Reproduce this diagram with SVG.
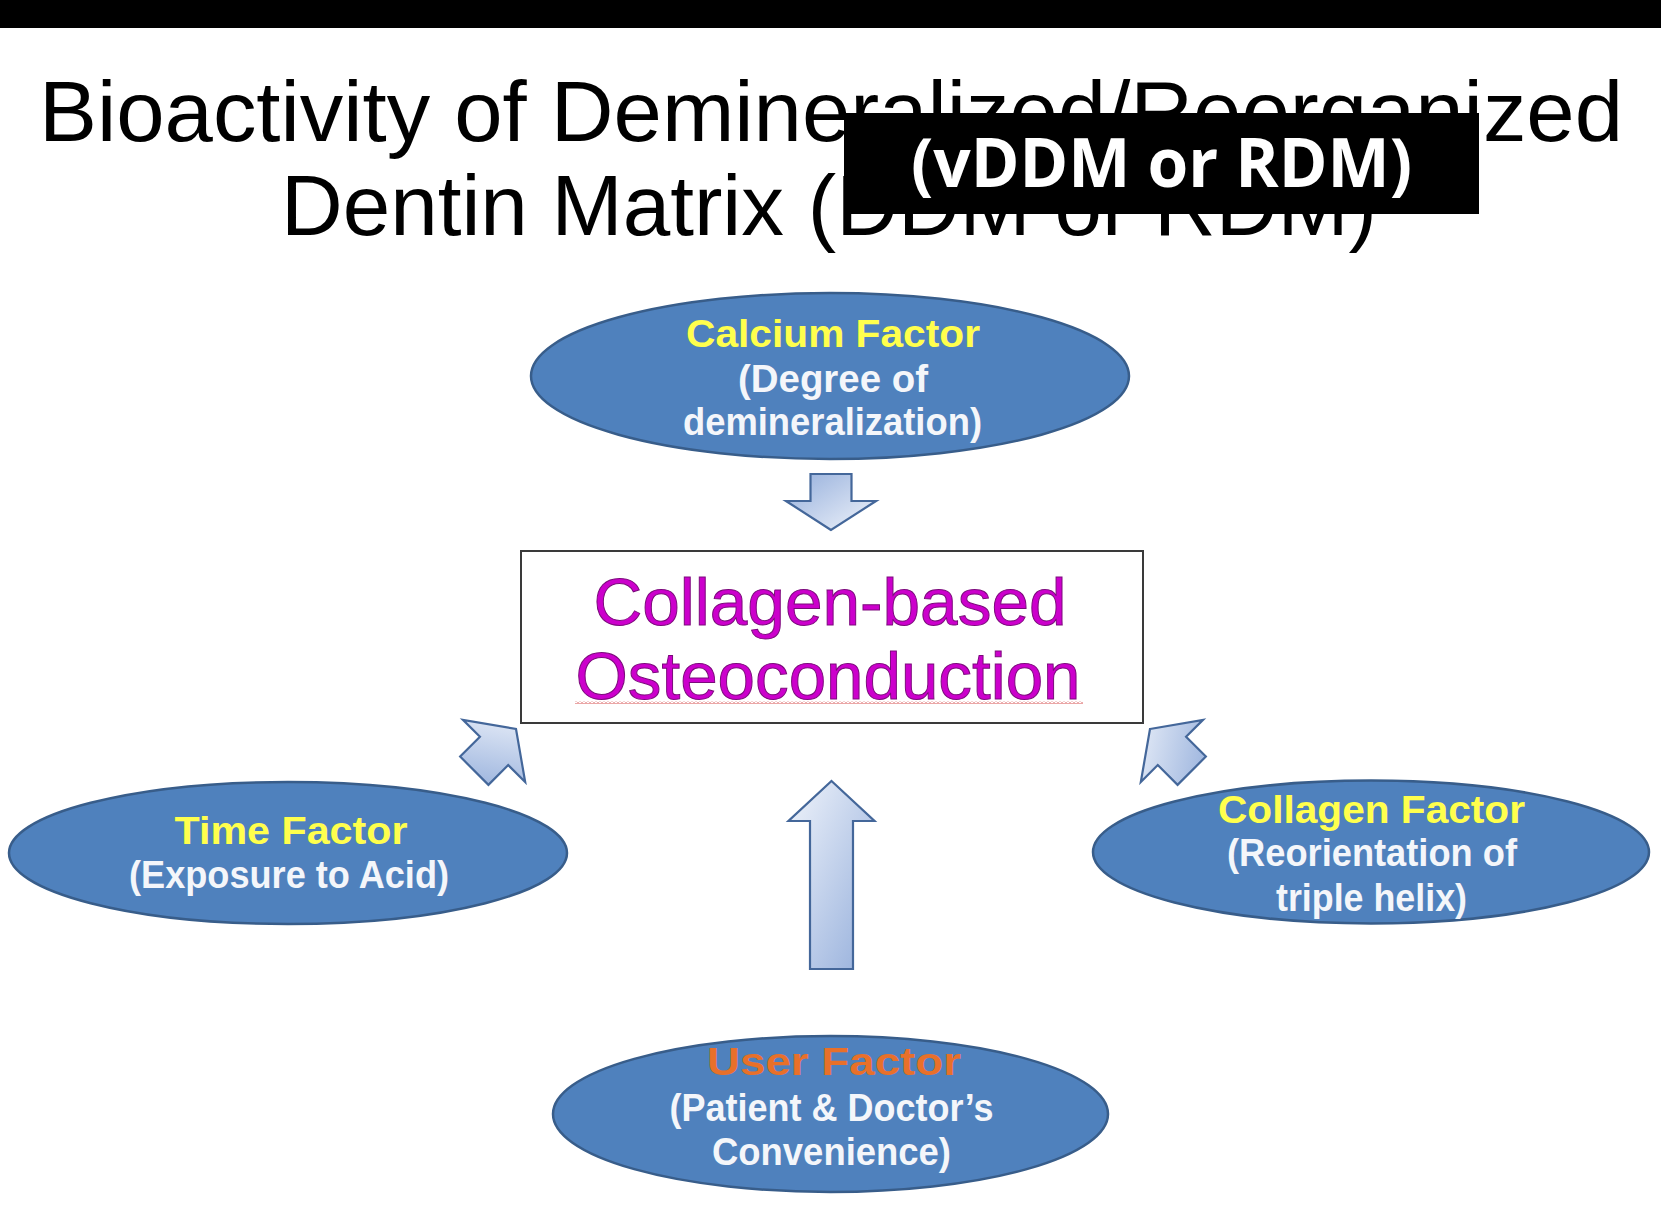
<svg xmlns="http://www.w3.org/2000/svg" width="1661" height="1228" viewBox="0 0 1661 1228">
  <style>
    .title { font-family: "Liberation Sans", Arial, sans-serif; font-size: 86px; fill: #000; }
    .oval { fill: #4f81bd; stroke: #385d8a; stroke-width: 2.5; }
    .lbl { font-family: "Liberation Sans", Arial, sans-serif; font-size: 39px; font-weight: bold; text-anchor: middle; }
    .yel { fill: #ffff4d; }
    .wht { fill: #f4f6fa; }
    .org { fill: #e8702a; }
    .arrow { fill: url(#arrGrad); stroke: #44679a; stroke-width: 2.2; stroke-linejoin: miter; }
    .center { font-family: "Liberation Sans", Arial, sans-serif; font-size: 67px; fill: #cc00cc; stroke: #7a0a7a; stroke-width: 1; text-anchor: middle; }
  </style>
  <defs>
    <linearGradient id="arrGrad" x1="0" y1="0" x2="1" y2="1">
      <stop offset="0" stop-color="#f0f4fb"/>
      <stop offset="1" stop-color="#94aedb"/>
    </linearGradient>
    <pattern id="squiggle" x="0" y="0" width="4" height="3" patternUnits="userSpaceOnUse">
      <path d="M0,2.5 L2,0.5 L4,2.5" fill="none" stroke="#d03a3a" stroke-width="0.9"/>
    </pattern>
  </defs>

  <rect x="0" y="0" width="1661" height="1228" fill="#ffffff"/>
  <rect x="0" y="0" width="1661" height="28" fill="#000000"/>

  <g id="title">
    <text class="title" x="39" y="141" textLength="1584" lengthAdjust="spacingAndGlyphs">Bioactivity of Demineralized/Reorganized</text>
    <text class="title" x="281" y="235" textLength="1096" lengthAdjust="spacingAndGlyphs">Dentin Matrix (DDM or RDM)</text>
    <rect x="844" y="113" width="635" height="101" fill="#000000"/>
    <text x="911" y="187" textLength="501" lengthAdjust="spacingAndGlyphs" style="font-family: 'Open Sans', 'Noto Sans', sans-serif; font-weight: bold; font-size: 68px; fill: #ffffff;">(vDDM or RDM)</text>
  </g>

  <g id="connectors">
    <polygon class="arrow" transform="translate(831,530) rotate(180)" points="0,0 45,29 20.5,29 20.5,56 -20.5,56 -20.5,29 -45,29"/>
    <polygon class="arrow" transform="translate(516,729) rotate(45)" points="0,0 44,31 20,31 20,59 -20,59 -20,31 -44,31"/>
    <polygon class="arrow" transform="translate(1150,729) rotate(-45)" points="0,0 44,31 20,31 20,59 -20,59 -20,31 -44,31"/>
    <polygon class="arrow" transform="translate(831.5,781)" points="0,0 43,40 21.5,40 21.5,188 -21.5,188 -21.5,40 -43,40"/>
  </g>

  <g id="calcium">
    <ellipse class="oval" cx="830" cy="376" rx="299" ry="83"/>
    <text class="lbl yel" x="833" y="347" textLength="294" lengthAdjust="spacingAndGlyphs">Calcium Factor</text>
    <text class="lbl wht" x="833" y="392" textLength="190" lengthAdjust="spacingAndGlyphs">(Degree of</text>
    <text class="lbl wht" x="832.5" y="435" textLength="299" lengthAdjust="spacingAndGlyphs">demineralization)</text>
  </g>

  <g id="osteoconduction">
    <rect x="521" y="551" width="622" height="172" fill="#ffffff" stroke="#3a3a3a" stroke-width="2"/>
    <text class="center" x="830" y="625" textLength="473" lengthAdjust="spacingAndGlyphs">Collagen-based</text>
    <text class="center" x="828" y="699" textLength="505" lengthAdjust="spacingAndGlyphs">Osteoconduction</text>
    <rect x="575" y="701" width="508" height="3" fill="url(#squiggle)"/>
  </g>

  <g id="time">
    <ellipse class="oval" cx="288" cy="853" rx="279" ry="71"/>
    <text class="lbl yel" x="291" y="844" textLength="233" lengthAdjust="spacingAndGlyphs">Time Factor</text>
    <text class="lbl wht" x="289" y="888" textLength="320" lengthAdjust="spacingAndGlyphs">(Exposure to Acid)</text>
  </g>

  <g id="collagen">
    <ellipse class="oval" cx="1371" cy="852" rx="278" ry="71.5"/>
    <text class="lbl yel" x="1371.5" y="823" textLength="307" lengthAdjust="spacingAndGlyphs">Collagen Factor</text>
    <text class="lbl wht" x="1372" y="866" textLength="290" lengthAdjust="spacingAndGlyphs">(Reorientation of</text>
    <text class="lbl wht" x="1371.5" y="911" textLength="191" lengthAdjust="spacingAndGlyphs">triple helix)</text>
  </g>

  <g id="user">
    <ellipse class="oval" cx="830.5" cy="1114" rx="277.5" ry="78"/>
    <text class="lbl org" x="834" y="1075" textLength="254" lengthAdjust="spacingAndGlyphs">User Factor</text>
    <text class="lbl wht" x="831.5" y="1121" textLength="324" lengthAdjust="spacingAndGlyphs">(Patient &amp; Doctor’s</text>
    <text class="lbl wht" x="831.5" y="1165" textLength="239" lengthAdjust="spacingAndGlyphs">Convenience)</text>
  </g>
</svg>
